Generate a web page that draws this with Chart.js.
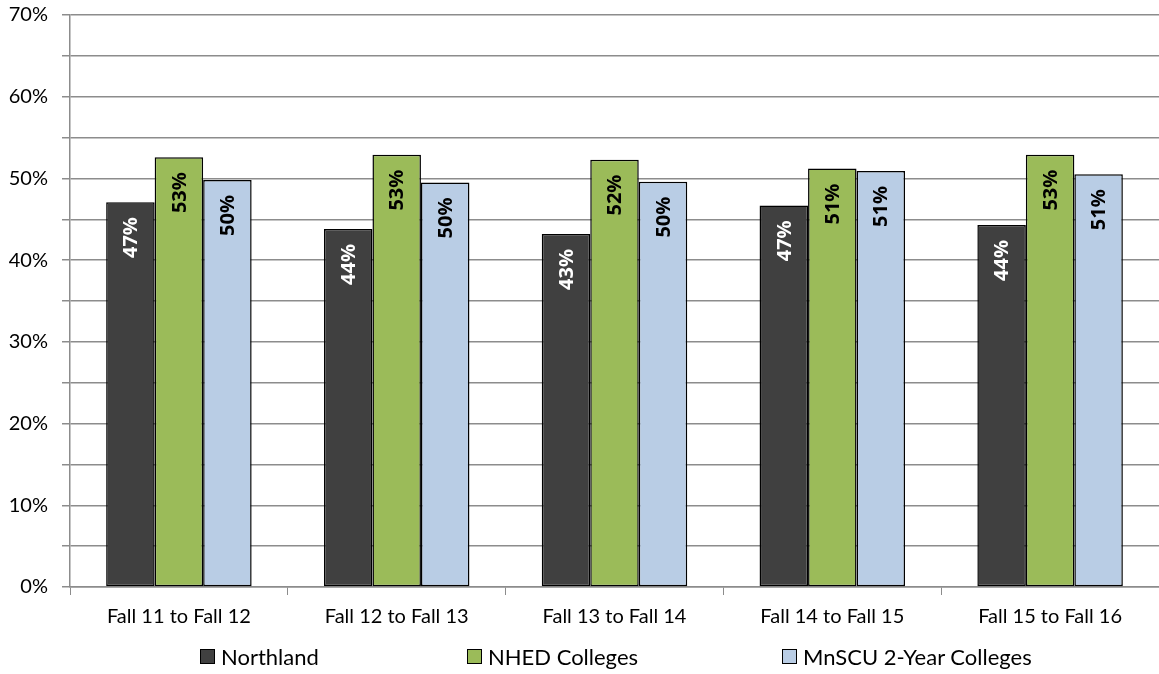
<!DOCTYPE html>
<html>
<head>
<meta charset="utf-8">
<script src="https://cdn.jsdelivr.net/npm/chart.js@4.4.0/dist/chart.umd.min.js"></script>
<style>
  html, body { margin: 0; padding: 0; background: #fff; }
  #wrap { position: relative; width: 1159px; height: 674px; }
  #legend {
    position: absolute; left: 0; top: 643px; width: 1159px; height: 28px;
    font-family: Lato, "Open Sans", sans-serif; font-size: 22px; color: #000;
  }
  .item { position: absolute; top: 0; display: flex; align-items: center; white-space: nowrap; }
  .box { width: 13px; height: 13px; border: 1px solid #000; margin-right: 6px; }
</style>
</head>
<body>
<div id="wrap">
  <canvas id="retentionChart"></canvas>
  <div id="legend"></div>
</div>
<script>
const categories = ['Fall 11 to Fall 12', 'Fall 12 to Fall 13', 'Fall 13 to Fall 14', 'Fall 14 to Fall 15', 'Fall 15 to Fall 16'];
const northland = [47.1, 43.8, 43.2, 46.7, 44.3];
const nhed = [52.6, 52.9, 52.3, 51.2, 52.9];
const mnscu = [49.8, 49.5, 49.6, 50.9, 50.5];
const yTicks = [0, 10, 20, 30, 40, 50, 60, 70];

const FONT = 'Lato, "Open Sans", sans-serif';
const gridGray = '#8c8c8c';

// value labels, rotated, inside the top of each bar
const barLabels = {
    id: 'barLabels',
    afterDatasetsDraw(chart) {
        const ctx = chart.ctx;
        chart.data.datasets.forEach((ds, i) => {
            const meta = chart.getDatasetMeta(i);
            meta.data.forEach((bar, j) => {
                ctx.save();
                ctx.translate(bar.x, bar.y);
                ctx.rotate(-Math.PI / 2);
                ctx.font = 'bold 20px "Open Sans", sans-serif';
                ctx.fillStyle = ds.labelColor;
                ctx.textAlign = 'right';
                ctx.textBaseline = 'middle';
                ctx.fillText(Math.round(ds.data[j]) + '%', -15, 1);
                ctx.restore();
            });
        });
    }
};

const ctx = document.getElementById('retentionChart').getContext('2d');

const chart = new Chart(ctx, {
    type: 'bar',
    data: {
        labels: categories,
        datasets: [{
            label: 'Northland',
            data: northland,
            backgroundColor: '#404040',
            labelColor: '#ffffff'
        }, {
            label: 'NHED Colleges',
            data: nhed,
            backgroundColor: '#9bbb59',
            labelColor: '#000000'
        }, {
            label: 'MnSCU 2-Year Colleges',
            data: mnscu,
            backgroundColor: '#b9cde5',
            labelColor: '#000000'
        }]
    },
    options: {
        responsive: true,
        maintainAspectRatio: false,
        animation: false,
        layout: { padding: { top: 15, right: 0, bottom: 0, left: 0 } },
        datasets: {
            bar: {
                borderColor: '#000',
                borderWidth: 1.5,
                borderSkipped: false,
                barPercentage: 1,
                categoryPercentage: 0.668
            }
        },
        plugins: {
            legend: { display: false },
            tooltip: { enabled: false }
        },
        scales: {
            x: {
                afterFit: s => { s.height = 87; s.paddingLeft = 0; s.paddingRight = 0; },
                grid: {
                    offset: true,
                    drawOnChartArea: false,
                    color: gridGray,
                    tickLength: 8
                },
                border: { color: gridGray, width: 1.5 },
                ticks: {
                    color: '#000',
                    font: { family: FONT, size: 20 },
                    padding: 10,
                    maxRotation: 0
                }
            },
            y: {
                min: 0,
                max: 70,
                afterFit: s => { s.width = 70; s.paddingTop = 0; s.paddingBottom = 0; },
                grid: {
                    color: gridGray,
                    lineWidth: 1.5,
                    tickLength: 8
                },
                border: { color: gridGray, width: 1.5 },
                ticks: {
                    stepSize: 5,
                    autoSkip: false,
                    color: '#000',
                    font: { family: FONT, size: 20 },
                    padding: 14,
                    callback: v => yTicks.includes(v) ? v + '%' : ''
                }
            }
        }
    },
    plugins: [barLabels]
});

// legend built from the chart's datasets
const legendLeft = [200, 467, 782];
document.getElementById('legend').innerHTML = chart.data.datasets.map((d, i) => `
    <div class="item" style="left:${legendLeft[i]}px">
        <span class="box" style="background:${d.backgroundColor}"></span>${d.label}
    </div>
`).join('');
</script>
</body>
</html>
